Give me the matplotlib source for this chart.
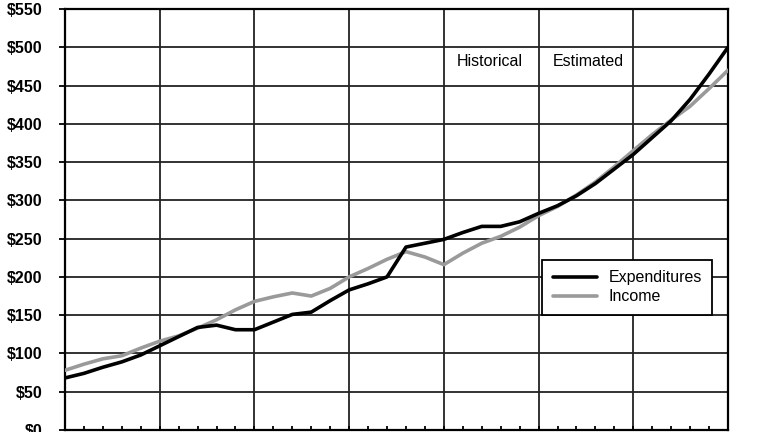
import numpy as np
import matplotlib.pyplot as plt
from matplotlib.ticker import MultipleLocator, FuncFormatter

plt.rcParams['font.family'] = ['Liberation Sans', 'DejaVu Sans']

# years since start of series (0 .. 35); 0-25 historical, 25-35 estimated
YEARS = list(range(36))
EXPENDITURES = [68, 74, 82, 89, 98, 110, 122, 134, 137, 131,
                131, 141, 151, 154, 169, 183, 191, 200, 239, 244,
                249, 258, 266, 266, 272, 283, 293, 306, 322, 341,
                360, 382, 404, 432, 465, 500]
INCOME = [78, 86, 93, 97, 107, 116, 123, 133, 144, 157,
          168, 174, 179, 175, 185, 200, 211, 223, 233, 226,
          216, 231, 244, 253, 265, 280, 292, 307, 324, 344,
          365, 386, 405, 423, 446, 470]
SPLIT_YEAR = 25

fig = plt.figure(figsize=(7.64, 4.32), dpi=100)
ax = fig.add_axes([65 / 764, 2 / 432, (728 - 65) / 764, (430 - 9) / 432])

ax.plot(YEARS, EXPENDITURES, color="black", lw=2.6, label="Expenditures",
        solid_capstyle="round", zorder=4)
ax.plot(YEARS, INCOME, color="#9a9a9a", lw=2.6, label="Income",
        solid_capstyle="round", zorder=3)

ax.set_xlim(0, 35)
ax.set_ylim(0, 550)
ax.xaxis.set_major_locator(MultipleLocator(5))
ax.xaxis.set_minor_locator(MultipleLocator(1))
ax.yaxis.set_major_locator(MultipleLocator(50))
ax.yaxis.set_major_formatter(FuncFormatter(lambda v, p: f"${v:.0f}"))
ax.set_xticklabels([])
ax.grid(True, which="major", color="#222222", lw=1.3)
ax.set_axisbelow(True)

for s in ax.spines.values():
    s.set_linewidth(1.6)
    s.set_color("black")

ax.tick_params(axis="y", which="major", direction="out", length=4, width=1.3,
               pad=12, labelsize=11.5)
ax.tick_params(axis="x", which="both", direction="in", length=3, width=1.3)
for lab in ax.get_yticklabels():
    lab.set_fontweight("bold")

ax.text(SPLIT_YEAR - 0.85, 482, "Historical", ha="right", va="center", fontsize=11.5)
ax.text(SPLIT_YEAR + 0.75, 482, "Estimated", ha="left", va="center", fontsize=11.5)

leg = ax.legend(loc="upper left", bbox_to_anchor=(0.72, 0.404), borderaxespad=0,
                fancybox=False, framealpha=1, edgecolor="black", fontsize=11.5,
                handlelength=2.8, handletextpad=0.7, borderpad=0.65,
                labelspacing=0.25)
leg.get_frame().set_linewidth(1.3)
leg.set_zorder(6)

fig.savefig("out.png", dpi=100)
